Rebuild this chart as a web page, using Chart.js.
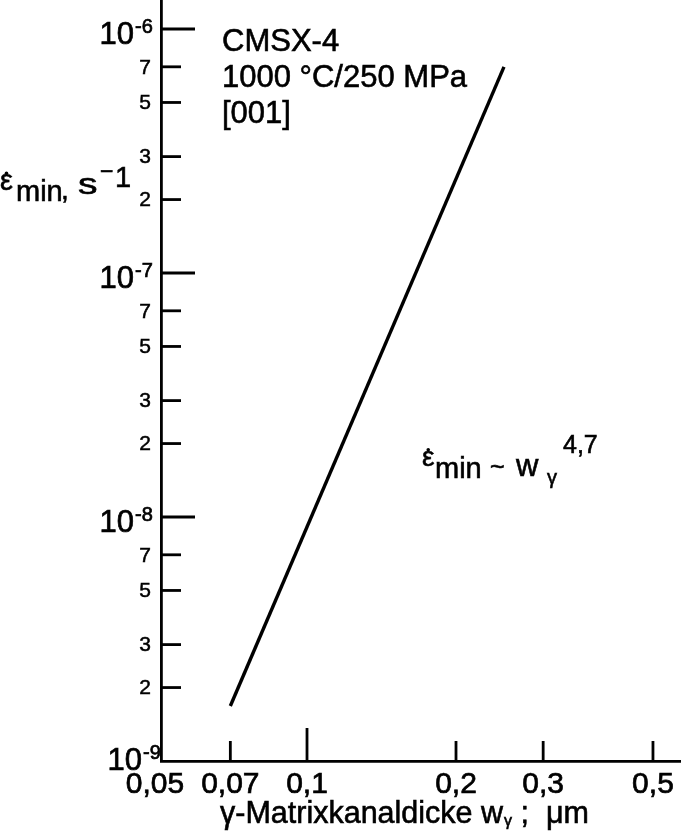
<!DOCTYPE html>
<html>
<head>
<meta charset="utf-8">
<script src="https://cdn.jsdelivr.net/npm/chart.js@4/dist/chart.umd.min.js"></script>
<style>
  html, body { margin: 0; padding: 0; background: #fff; }
  #wrap { width: 685px; height: 837px; position: relative; }
</style>
</head>
<body>
<div id="wrap"><canvas id="chart"></canvas></div>
<script>
'use strict';

// data
const channelWidth = [0.07, 0.25];          // w_gamma, µm
const creepRate = [1.68e-9, 7.0e-7];        // min. creep rate, 1/s

const xTickValues = [0.05, 0.07, 0.1, 0.2, 0.3, 0.5];
const xTickLabels = ['0,05', '0,07', '0,1', '0,2', '0,3', '0,5'];
const yDecades = [-9, -8, -7, -6];
const yMinorMult = [2, 3, 5, 7];
const infoLines = ['CMSX-4', '1000 \u00B0C/250 MPa', '[001]'];

const FONT = '"Liberation Sans", Arial, Helvetica, sans-serif';

function font(size) { return size + 'px ' + FONT; }

// scanned look: fill + thin stroke
function txt(ctx, s, x, y) {
  ctx.fillText(s, x, y);
  ctx.strokeText(s, x, y);
}

function drawRuns(ctx, x, y, runs) {
  // runs: [text, size, dy]
  ctx.textAlign = 'left';
  ctx.textBaseline = 'alphabetic';
  runs.forEach(r => {
    ctx.font = font(r[1]);
    txt(ctx, r[0], x, y + (r[2] || 0));
    x += ctx.measureText(r[0]).width;
  });
  return x;
}

function epsDot(ctx, x, y, size) {
  ctx.font = font(size);
  ctx.textAlign = 'left';
  ctx.textBaseline = 'alphabetic';
  txt(ctx, '\u03B5', x, y);
  const w = ctx.measureText('\u03B5').width;
  ctx.beginPath();
  ctx.arc(x + w / 2, y - size * 0.58, 1.8, 0, Math.PI * 2);
  ctx.fill();
  return x + w;
}

const axisDecor = {
  id: 'axisDecor',
  afterDraw(chart) {
    const ctx = chart.ctx;
    const xs = chart.scales.x, ys = chart.scales.y;
    const left = chart.chartArea.left, bottom = chart.chartArea.bottom;
    ctx.save();
    ctx.strokeStyle = '#000';
    ctx.fillStyle = '#000';

    // y axis: inward ticks + labels
    yDecades.forEach((e, i) => {
      const v = Math.pow(10, e);
      const py = ys.getPixelForValue(v);
      ctx.lineWidth = 2.8;
      if (i > 0) {
        ctx.beginPath(); ctx.moveTo(left, py); ctx.lineTo(left + 34, py); ctx.stroke();
      }
      const shiftX = i === 0 ? 8 : 0, shiftY = i === 0 ? -6 : 0;
      ctx.lineWidth = 0.7;
      ctx.font = font(31);
      ctx.textAlign = 'right';
      ctx.textBaseline = 'alphabetic';
      txt(ctx, '10', left - 27 + shiftX, py + 15 + shiftY);
      ctx.font = font(20);
      ctx.textAlign = 'left';
      txt(ctx, String(e), left - 26 + shiftX, py + 4 + shiftY);

      if (i < yDecades.length - 1) {
        yMinorMult.forEach(m => {
          const pm = ys.getPixelForValue(m * v);
          ctx.lineWidth = 2.8;
          ctx.beginPath(); ctx.moveTo(left, pm); ctx.lineTo(left + 20, pm); ctx.stroke();
          ctx.lineWidth = 0.5;
          ctx.font = font(21);
          ctx.textAlign = 'right';
          ctx.textBaseline = 'middle';
          txt(ctx, String(m), left - 10, pm + 1);
        });
      }
    });

    // x axis: inward ticks + labels
    xTickValues.forEach((v, i) => {
      const px = xs.getPixelForValue(v);
      if (px > left + 2) {
        ctx.lineWidth = 2.8;
        const len = v === 0.1 ? 33 : 20;
        ctx.beginPath(); ctx.moveTo(px, bottom); ctx.lineTo(px, bottom - len); ctx.stroke();
      }
      ctx.lineWidth = 0.7;
      ctx.font = font(30);
      ctx.textAlign = 'center';
      ctx.textBaseline = 'alphabetic';
      txt(ctx, xTickLabels[i], i === 0 ? px - 3 : px, bottom + 32);
    });

    ctx.lineWidth = 0.6;

    // y axis title
    epsDot(ctx, 0, 190, 29);
    drawRuns(ctx, 16, 201, [['min', 29]]);
    drawRuns(ctx, 61, 199, [[',', 28]]);
    ctx.save();
    ctx.translate(78, 194);
    ctx.scale(1.3, 1);
    drawRuns(ctx, 0, 0, [['s', 30]]);
    ctx.restore();
    drawRuns(ctx, 100, 179, [['\u2212', 23]]);
    drawRuns(ctx, 115, 187, [['1', 29]]);

    // x axis title
    let x = drawRuns(ctx, 220, 823, [['\u03B3-Matrixkanaldicke w', 30.5]]);
    x = drawRuns(ctx, x + 1, 826, [['\u03B3', 16]]);
    drawRuns(ctx, x, 823, [[' ;  \u03BCm', 30.5]]);

    // info block
    ctx.font = font(31);
    ctx.textAlign = 'left';
    ctx.textBaseline = 'alphabetic';
    infoLines.forEach((t, i) => txt(ctx, t, 222, 51 + i * 36));

    // power law annotation
    epsDot(ctx, 422, 466, 28);
    drawRuns(ctx, 435, 478, [['min', 29]]);
    drawRuns(ctx, 490, 475, [['~', 25]]);
    drawRuns(ctx, 516, 476, [['w', 31]]);
    drawRuns(ctx, 547, 484, [['\u03B3', 20]]);
    drawRuns(ctx, 563, 453, [['4,7', 25]]);

    ctx.restore();
  }
};

const noTicks = { display: false };

new Chart(document.getElementById('chart'), {
  type: 'line',
  data: {
    datasets: [{
      data: channelWidth.map((w, i) => ({ x: w, y: creepRate[i] })),
      borderColor: '#000',
      borderWidth: 3.4,
      pointRadius: 0,
      fill: false,
      tension: 0,
    }],
  },
  options: {
    responsive: true,
    maintainAspectRatio: false,
    animation: false,
    layout: { padding: { top: 0, right: 5, left: 0, bottom: 0 } },
    plugins: { legend: { display: false }, tooltip: { enabled: false } },
    scales: {
      x: {
        type: 'logarithmic',
        min: 0.0507,
        max: 0.567,
        ticks: noTicks,
        grid: { display: false, drawTicks: false },
        border: { display: true, color: '#000', width: 2.8 },
        afterFit: s => { s.height = 76; },
      },
      y: {
        type: 'logarithmic',
        min: 1e-9,
        max: 1.315e-6,
        ticks: noTicks,
        grid: { display: false, drawTicks: false },
        border: { display: true, color: '#000', width: 2.8 },
        afterFit: s => { s.width = 161; },
      },
    },
  },
  plugins: [axisDecor],
});
</script>
</body>
</html>
